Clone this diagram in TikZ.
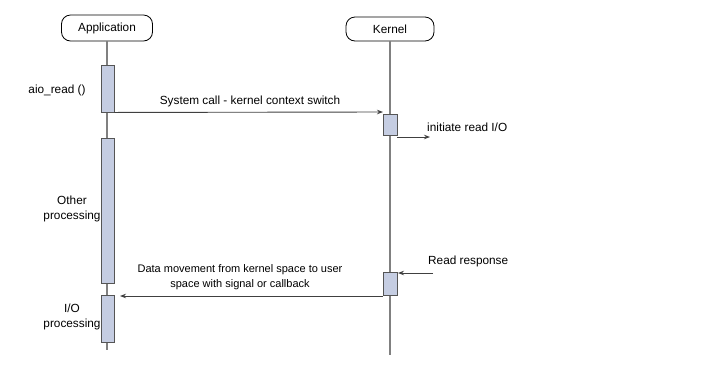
\documentclass[tikz,border=0pt]{standalone}
\usepackage{fontspec}
\setmainfont{Liberation Sans}
\usetikzlibrary{arrows.meta}
\definecolor{barfill}{RGB}{197,205,226}
\definecolor{lifegray}{RGB}{128,128,128}
\definecolor{bordergray}{RGB}{85,85,85}
\begin{document}
\begin{tikzpicture}[x=1pt,y=-1pt,
  every node/.style={font=\fontsize{11.8}{15}\selectfont, inner sep=0pt},
  actor/.style={draw=black, rounded corners=9pt, fill=white, line width=0.8pt},
  lifeline/.style={draw=lifegray, line width=1.4pt},
  actbar/.style={draw=bordergray, fill=barfill, line width=0.9pt},
  msg/.style={draw=black!75, line width=0.9pt, -{Stealth[length=6pt,width=4.5pt]}},
  lbl/.style={align=center}]
\useasboundingbox (0,0) rectangle (718,368);
% actors
\node[actor, minimum width=91pt, minimum height=26pt] (app) at (107,28) {Application};
\node[actor, minimum width=88pt, minimum height=24pt] (ker) at (390,29) {Kernel};
\coordinate (append) at (107,350);
\coordinate (kerend) at (390,355);
\draw[lifeline] (app.south) -- (append);
\draw[lifeline] (ker.south) -- (kerend);
% activation bars
\node[actbar, minimum width=13pt, minimum height=47pt] (a1) at (107.5,88.5) {};
\node[actbar, minimum width=13pt, minimum height=145pt] (a2) at (107.5,210.5) {};
\node[actbar, minimum width=13pt, minimum height=47pt] (a3) at (107.5,318.5) {};
\node[actbar, minimum width=14pt, minimum height=21pt] (k1) at (390,124.5) {};
\node[actbar, minimum width=14pt, minimum height=23pt] (k2) at (390,283.5) {};
% messages
\coordinate (k1in) at (383,112);
\draw[msg] (a1.south east) -- (k1in);
\node at (250,101) {System call - kernel context switch};
\coordinate (initend) at (430,137);
\draw[msg] (k1.south east |- initend) -- (initend);
\node[anchor=west] at (427,127) {initiate read I/O};
\coordinate (rrstart) at (433,273);
\coordinate (rrend) at (398,273);
\draw[msg] (rrstart) -- (rrend);
\node[anchor=west] at (428,261) {Read response};
\coordinate (dmend) at (120,296);
\draw[msg] (k2.south west |- dmend) -- (dmend);
\node[lbl, font=\fontsize{11}{15}\selectfont] at (240,277) {Data movement from kernel space to user\\space with signal or callback};
% side labels
\node at (57,90) {aio\_read ()};
\node[lbl] at (72,209) {Other\\processing};
\node[lbl] at (72,317) {I/O\\processing};
\end{tikzpicture}
\end{document}
